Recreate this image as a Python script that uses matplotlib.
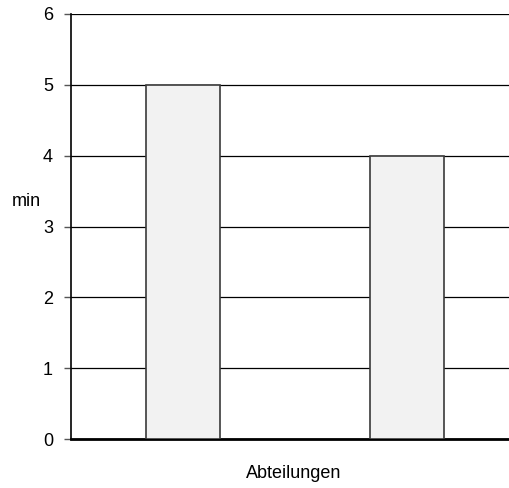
import matplotlib
matplotlib.use("Agg")
import matplotlib.pyplot as plt

# data
categories = ["A", "B"]
values = [5, 4]
y_ticks = [0, 1, 2, 3, 4, 5, 6]

plt.rcParams['font.family'] = ['Liberation Sans', 'DejaVu Sans']

fig = plt.figure(figsize=(5.1, 4.88), dpi=100)
ax = fig.add_axes([71/510, 1 - 439/488, 439/510, 425/488])

x = list(range(len(categories)))
ax.bar(x, values, width=0.33, color='#f2f2f2', edgecolor='#3a3a3a', linewidth=1.2, zorder=3)

ax.set_xlim(-0.5, 1.46)
ax.set_ylim(0, 6)
ax.set_yticks(y_ticks)
ax.set_yticklabels([str(t) for t in y_ticks], fontsize=13)
ax.set_xticks([])
ax.yaxis.grid(True, color='black', linewidth=0.9, zorder=0)
ax.set_axisbelow(True)

ax.spines['top'].set_visible(False)
ax.spines['right'].set_visible(False)
ax.spines['left'].set_linewidth(1.2)
ax.spines['bottom'].set_linewidth(2)
ax.tick_params(axis='y', length=5, width=1, color='#555555', pad=8)

fig.text(12/510, 1 - 201/488, 'min', fontsize=13, ha='left', va='center')
fig.text(294/510, 1 - 473/488, 'Abteilungen', fontsize=13, ha='center', va='center')

fig.savefig('out.png', dpi=100)
